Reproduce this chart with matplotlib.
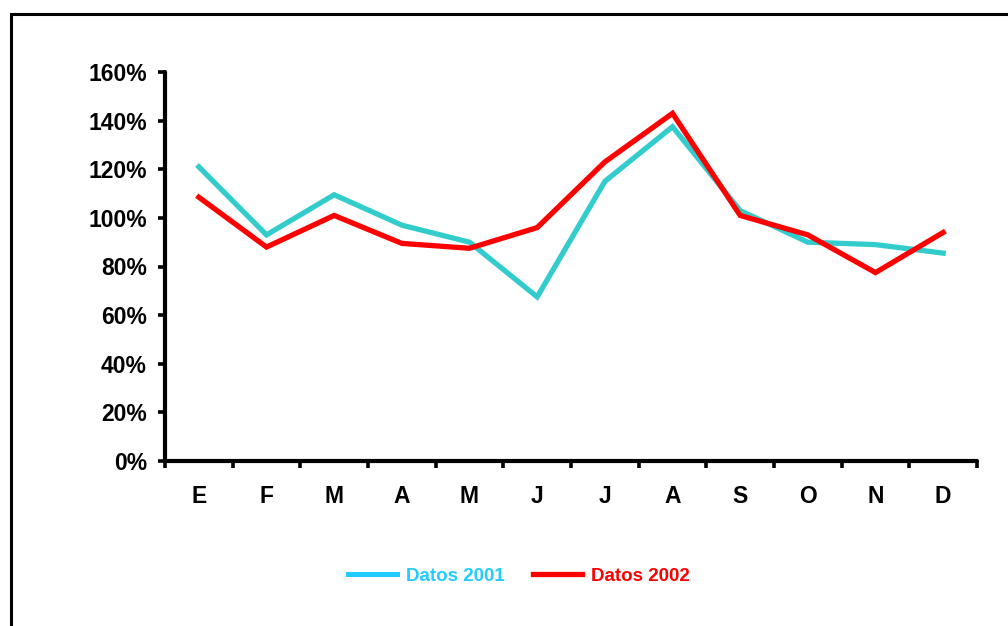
import matplotlib
matplotlib.use("Agg")
import matplotlib.pyplot as plt
import numpy as np
from matplotlib.lines import Line2D
from matplotlib.patches import Rectangle
from matplotlib.ticker import FixedLocator, PercentFormatter

plt.rcParams['font.family'] = ['Liberation Sans', 'DejaVu Sans']

meses = ['E', 'F', 'M', 'A', 'M', 'J', 'J', 'A', 'S', 'O', 'N', 'D']
datos_2001 = [121, 93, 109.5, 97, 90, 67.5, 115, 137.5, 103, 90, 89, 85.5]
datos_2002 = [108.5, 88, 101, 89.5, 87.5, 96, 123, 143, 101, 93, 77.5, 94]

color_2001 = '#33cccc'
color_2002 = '#ff0000'
color_leyenda_2001 = '#22ccff'

fig = plt.figure(figsize=(10.08, 6.26), dpi=100)
ax = fig.add_axes([165/1008, 1-461/626, (977-165)/1008, (461-72)/626])

x = np.arange(len(meses)) + 0.5
ax.plot(x, datos_2001, color=color_2001, lw=3.8, solid_joinstyle='miter', clip_on=False)
ax.plot(x, datos_2002, color=color_2002, lw=3.8, solid_joinstyle='miter', clip_on=False)

ax.set_xlim(0, 12)
ax.set_ylim(0, 160)
ax.set_yticks(np.arange(0, 161, 20))
ax.yaxis.set_major_formatter(PercentFormatter(decimals=0))
ax.set_xticks(x)
ax.set_xticklabels(meses)
ax.xaxis.set_minor_locator(FixedLocator(np.arange(0, 13)))

for s in ['top', 'right']:
    ax.spines[s].set_visible(False)
for s in ['left', 'bottom']:
    ax.spines[s].set_linewidth(3.0)
    ax.spines[s].set_capstyle('round')

ax.tick_params(axis='y', direction='out', length=5, width=2.6, pad=8,
               labelsize=16.5)
ax.tick_params(axis='x', which='major', length=0, pad=17, labelsize=16.5)
ax.tick_params(axis='x', which='minor', direction='out', length=5, width=2.6)
for lab in ax.get_xticklabels() + ax.get_yticklabels():
    lab.set_fontweight('bold')

# leyenda
handles = [Line2D([], [], color=color_leyenda_2001, lw=3.6),
           Line2D([], [], color=color_2002, lw=3.8)]
leg = fig.legend(handles, ['Datos 2001', 'Datos 2002'], loc='center',
                 bbox_to_anchor=(519/1008, 1-576/626), ncol=2, frameon=False,
                 handlelength=2.6, handletextpad=0.5, columnspacing=1.5,
                 prop={'weight': 'bold', 'size': 13.5})
for txt, c in zip(leg.get_texts(), [color_leyenda_2001, color_2002]):
    txt.set_color(c)

# marco exterior
fig.patches.append(Rectangle((11/1008, -0.1), 1.2, 1 - 14/626 + 0.1,
                             transform=fig.transFigure, fill=False,
                             edgecolor='black', lw=2.2))

fig.savefig('out.png', dpi=100)
